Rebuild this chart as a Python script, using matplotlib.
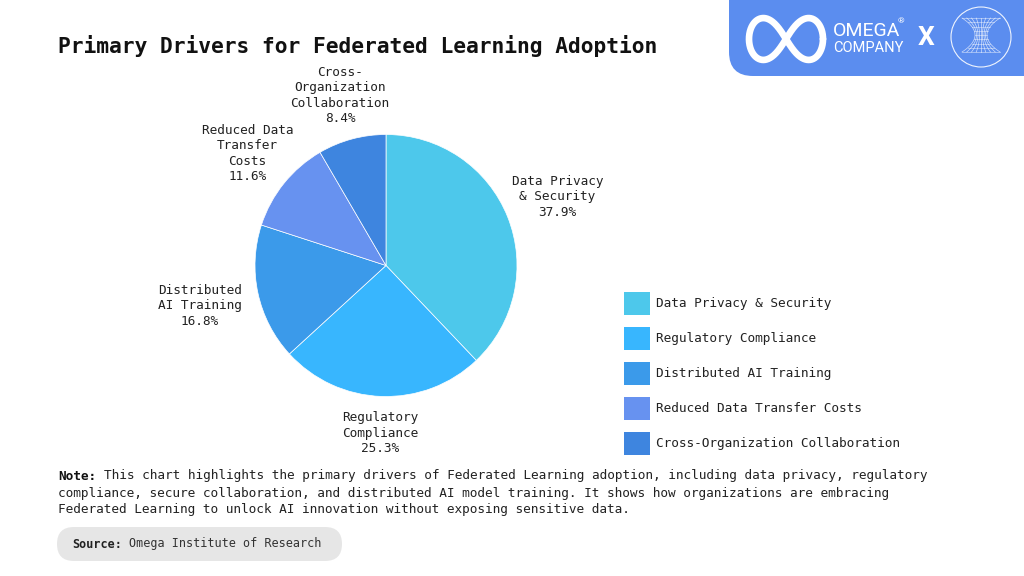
import numpy as np
import matplotlib
matplotlib.use("Agg")
import matplotlib.pyplot as plt
from matplotlib.patches import FancyBboxPatch, Rectangle, Circle

# ---------------- data ----------------
categories = ["Data Privacy & Security", "Regulatory Compliance", "Distributed AI Training",
              "Reduced Data Transfer Costs", "Cross-Organization Collaboration"]
pie_labels = ["Data Privacy\n& Security", "Regulatory\nCompliance", "Distributed\nAI Training",
              "Reduced Data\nTransfer\nCosts", "Cross-\nOrganization\nCollaboration"]
shares = [37.9, 25.3, 16.8, 11.6, 8.4]

# ---------------- style ----------------
colors = ["#4DC8EB", "#38B6FE", "#3B9AEA", "#6792F0", "#3E85DF"]
label_r = [1.41, 1.28, 1.455, 1.36, 1.345]
MONO = "DejaVu Sans Mono"

W, H = 1024, 576
fig = plt.figure(figsize=(W / 100, H / 100), dpi=100, facecolor="white")

bg = fig.add_axes([0, 0, 1, 1])
bg.set_xlim(0, W)
bg.set_ylim(H, 0)
bg.axis("off")
bg.patch.set_alpha(0)

# ---------------- pie ----------------
cx, cy, R = 386, 265.5, 131
half = 200
pax = fig.add_axes([(cx - half) / W, (H - (cy + half)) / H, 2 * half / W, 2 * half / H])
wedges, _ = pax.pie(shares, colors=colors, startangle=90, counterclock=False, radius=1,
                    wedgeprops=dict(edgecolor="white", linewidth=0.5))
lim = half / R
pax.set_xlim(-lim, lim)
pax.set_ylim(-lim, lim)
pax.set_aspect("equal")
pax.axis("off")
for w, lab, v, r in zip(wedges, pie_labels, shares, label_r):
    ang = np.deg2rad((w.theta1 + w.theta2) / 2)
    pax.text(r * np.cos(ang), r * np.sin(ang), f"{lab}\n{v:.1f}%", ha="center", va="center",
             multialignment="center", fontsize=9.2, family=MONO, color="#222222", linespacing=1.25)

# ---------------- title ----------------
bg.text(58, 46, "Primary Drivers for Federated Learning Adoption", fontsize=15.3,
        fontweight="bold", family=MONO, color="#111111", ha="left", va="center")

# ---------------- legend ----------------
for i, (cat, col) in enumerate(zip(categories, colors)):
    y = 303.5 + i * 35
    bg.add_patch(Rectangle((624, y - 11.5), 26, 23, facecolor=col, edgecolor="none"))
    bg.text(656, y, cat, fontsize=9.2, family=MONO, color="#222222", ha="left", va="center")

# ---------------- note ----------------
NOTE_FS = 9.2
cw_note = 0.602 * NOTE_FS * 100 / 72  # monospace advance in px
note_lines = [
    "This chart highlights the primary drivers of Federated Learning adoption, including data privacy, regulatory",
    "compliance, secure collaboration, and distributed AI model training. It shows how organizations are embracing",
    "Federated Learning to unlock AI innovation without exposing sensitive data.",
]
bg.text(58, 476, "Note:", fontsize=NOTE_FS, family=MONO, fontweight="bold", color="#111111",
        ha="left", va="center")
for i, line in enumerate(note_lines):
    y = 476 + i * 17
    x0 = 58 + (6 * cw_note if i == 0 else 0)
    bg.text(x0, y, line, fontsize=NOTE_FS, family=MONO, color="#222222", ha="left", va="center")

# ---------------- source pill ----------------
bg.add_patch(FancyBboxPatch((57, 527), 285, 34, boxstyle="round,pad=0,rounding_size=17",
                            facecolor="#E6E6E6", edgecolor="none"))
SRC_FS = 8.5
cw_src = 0.602 * SRC_FS * 100 / 72
bg.text(72, 544, "Source:", fontsize=SRC_FS, family=MONO, fontweight="bold", color="#222222",
        ha="left", va="center")
bg.text(72 + 8 * cw_src, 544, "Omega Institute of Research", fontsize=SRC_FS, family=MONO,
        color="#333333", ha="left", va="center")

# ---------------- logo ----------------
blue = "#5B8DEF"
bg.add_patch(FancyBboxPatch((729, -40), 340, 116, boxstyle="round,pad=0,rounding_size=24",
                            facecolor=blue, edgecolor="none"))
t = np.linspace(0, 2 * np.pi, 400)
a = 37
lx = a * np.cos(t) / (1 + np.sin(t) ** 2)
ly = a * np.sin(t) * np.cos(t) / (1 + np.sin(t) ** 2) * 1.6
bg.plot(786 + lx, 39 + ly, color="white", lw=4.8, solid_capstyle="round")
bg.text(833, 31, "OMEGA", fontsize=14, family="Roboto", color="white", ha="left", va="center")
bg.text(898, 21, "®", fontsize=6, family="Roboto", color="white", ha="left", va="center")
bg.text(833, 48, "COMPANY", fontsize=10.5, family="Roboto", color="white", ha="left", va="center")
bg.text(926, 38, "X", fontsize=19, family="Roboto", fontweight="bold", color="white",
        ha="center", va="center")
bg.add_patch(Circle((981, 37), 30, facecolor="none", edgecolor="white", lw=0.8, alpha=0.9))
for k in np.linspace(-1, 1, 9):
    yy = np.linspace(-17, 17, 50)
    xx = k * (6 + 0.045 * yy ** 2)
    bg.plot(981 + xx, 35 + yy, color="white", lw=0.5, alpha=0.7)
for k in np.linspace(-17, 17, 9):
    hw = 6 + 0.045 * k ** 2
    bg.plot([981 - hw, 981 + hw], [35 + k, 35 + k], color="white", lw=0.5, alpha=0.6)

fig.savefig("out.png", dpi=100, facecolor="white")
